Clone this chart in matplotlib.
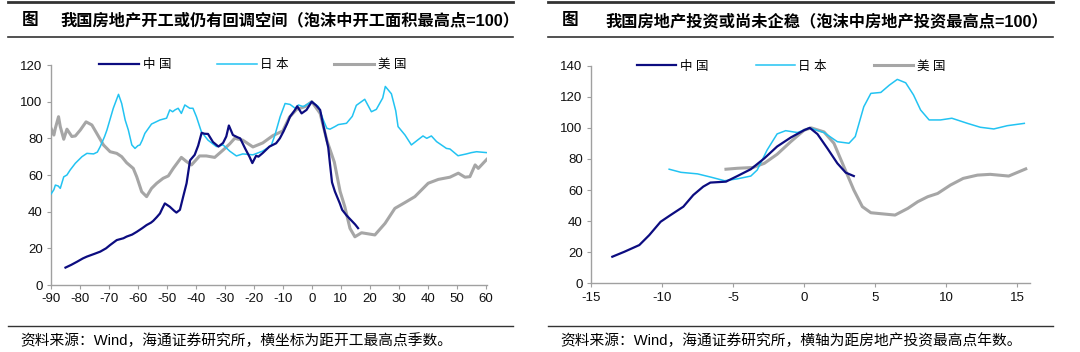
import matplotlib
matplotlib.use('Agg')
import matplotlib.pyplot as plt
from matplotlib.lines import Line2D

plt.rcParams['font.family'] = ['Liberation Sans', 'Noto Sans CJK SC']
plt.rcParams['axes.unicode_minus'] = False

# 左图：距开工最高点季数
cn_q = [-85, -83, -81, -79, -77.6, -75, -73, -71, -69.6, -67.3, -65, -63.9, -62, -60.4,
        -58.5, -57, -55.5, -54.7, -53.5, -52.4, -51.5, -50.7, -49, -47.5, -46.7, -45.5,
        -44.4, -43.2, -42, -40.4, -39.2, -38, -37, -35.8, -34.1, -32.2, -30.6, -29.5,
        -28.6, -27.2, -25.5, -24.7, -23, -21.5, -20.5, -19.2, -18.4, -16.9, -14.6, -12.3,
        -11, -9.8, -8.5, -7.5, -6, -5, -3.5, -1.8, 0, 1.5, 2.9, 4, 5, 5.7, 6.3, 7, 8,
        9.7, 10.5, 12, 13.5, 15, 16]
cn_v = [9.5, 11, 12.7, 14.5, 15.5, 17, 18.2, 20, 21.8, 24.5, 25.5, 26.4, 27.5, 29,
        31, 32.7, 34, 35, 37, 39, 42, 44.5, 42.7, 40.5, 39.5, 41,
        48, 55.5, 68, 71, 76, 83, 82.5, 82.4, 78, 75.5, 77.5, 81,
        87, 81.8, 80.5, 80, 74.5, 70, 66.5, 70.5, 70, 72, 75.5, 77.3,
        80, 83.6, 88, 91.8, 95, 97.5, 93.6, 95.5, 100, 98, 95.5, 87, 80, 75, 66, 56, 51,
        44.5, 41, 38, 35.5, 33, 31]

jp_q = [-90, -89, -88.5, -87.5, -86.8, -85.6, -84.5, -83.4, -81.6, -79.3, -77.6, -75.3,
        -74, -73, -71.5, -70.7, -68.5, -66.7, -65.6, -64.4, -63.3, -62.1, -61, -60,
        -59.3, -58.5, -57.6, -55.3, -52.4, -50.1, -49, -48, -47.2, -46.1, -45, -43.8,
        -42.1, -41, -39.8, -38.1, -35.8, -32.9, -30.6, -28.3, -26, -23.8, -20.3, -17,
        -14, -12.7, -10.9, -9.2, -7.5, -5.7, -4.6, -2.9, 0, 2.3, 4, 5.2, 6.3, 8, 9.2,
        12, 14, 15.4, 18.3, 20.6, 22.3, 24.5, 25.4, 27.5, 29, 29.8, 32.2, 34.4, 36.5,
        38.4, 39.7, 41.3, 43.1, 46.5, 47.7, 50.5, 53.4, 55.1, 56.9, 60.4]
jp_v = [49.6, 52, 54.5, 54, 52.7, 59, 60, 62.7, 66.4, 70, 71.8, 71.5,
        72.5, 75.5, 81, 84.5, 96.4, 104, 99, 90, 84.5, 76.4, 74.5, 76,
        76.4, 79, 82.7, 87.8, 90, 91, 95.5, 94.5, 95.5, 96.4, 93.6, 98.2,
        96.4, 96.4, 91.8, 83.6, 79, 75.5, 76.4, 73, 70.4, 71.5, 71, 73,
        76, 81.8, 91.8, 99, 98.5, 96.4, 98.2, 97.3, 100, 97.3, 90, 85.5, 85, 86.4, 87.5,
        88.2, 92, 98, 101.3, 94.5, 95.8, 102, 108.3, 104.3, 95, 86.4, 81.8, 76.4, 79,
        81.3, 80, 81.3, 78.2, 74.5, 74.2, 70.5, 71.5, 72.2, 72.7, 72.2]

us_q = [-90, -89, -88.5, -87.4, -86.8, -85.6, -84.5, -82.8, -81.6, -79.9, -77.9, -75.9,
        -74.2, -71.9, -69.6, -67.3, -65.6, -63.9, -61.6, -60.4, -58.7, -57, -55.3, -53.5,
        -51.3, -49.5, -47.8, -45, -43.2, -41.5, -38.7, -36.4, -33.5, -30.6, -28.3, -26.6,
        -23.8, -20.3, -16.9, -13.4, -10, -7.7, -5.2, -2.3, 0, 2.9, 5.2, 7.8, 9.8, 11.4,
        13.2, 14.9, 17.2, 21.8, 25.3, 28.7, 32.2, 35.6, 40.2, 43.7, 47.7, 50.6, 52.9,
        54.6, 56.4, 57.5, 60.4]
us_v = [85.5, 81.8, 85.5, 91.8, 86.4, 79.5, 85, 81, 81.3, 84.5, 89, 87.3,
        82.7, 76.4, 72.7, 71.8, 70, 66.7, 63.6, 59, 50.9, 48.2, 52.7, 55.5,
        58.2, 59.5, 63.6, 69.6, 67.3, 65.5, 70.4, 70.4, 69.6, 73.6, 77, 80,
        79, 75.3, 77.5, 81.5, 84, 91.5, 95.8, 97.3, 100, 93.6, 79, 67, 51, 42.8,
        30.9, 26.3, 28.5, 27.3, 33.6, 41.8, 45, 48.2, 55.5, 57.6, 58.8, 61, 58.8,
        59.1, 65.5, 63.6, 68.5]

# 右图：距房地产投资最高点年数
cn2_y = [-13.5, -12.65, -11.6, -10.9, -10.1, -9.4, -8.5, -7.8, -7.1, -6.6, -5.5, -4.7,
         -3.75, -2.8, -1.9, -0.94, 0, 0.4, 0.94, 1.64, 2.34, 2.93, 3.5]
cn2_v = [17.1, 20.3, 24.6, 31, 39.6, 43.9, 49.3, 56.8, 62.2, 64.8, 65.4, 69,
         73.4, 80.4, 88, 93.8, 98.5, 100, 96, 86.8, 77.2, 71.2, 69]

jp2_y = [-9.5, -8.67, -7.5, -6.56, -5.6, -4.7, -3.75, -3.3, -2.6, -1.9, -1.3, -0.47,
         0.4, 1.4, 2.34, 3.16, 3.6, 4.2, 4.7, 5.4, 6, 6.56, 7.15, 7.7, 8.2, 8.8, 9.6,
         10.4, 11.5, 12.4, 13.35, 14.3, 15.5]
jp2_v = [73.4, 71.4, 70.4, 68.3, 66, 67.2, 69, 72.9, 85.8, 96.1, 98.2, 97,
         100, 97, 91.1, 90.1, 94.4, 113.6, 122.2, 122.8, 127.5, 131.2, 129, 121.2, 111.5,
         105.1, 105.1, 106.2, 102.9, 100.4, 99.3, 101.4, 102.9]

us2_y = [-5.5, -4.7, -3.6, -2.8, -1.9, -0.94, 0, 0.5, 1.4, 2.1, 2.8, 3.5, 4.1, 4.7, 5.6,
         6.4, 7.3, 8, 8.7, 9.4, 10.3, 11.2, 12.2, 13.1, 14.4, 15.6]
us2_v = [73.4, 74, 74.5, 77.2, 83, 91.1, 98.5, 100, 97.4, 90.1, 75, 60, 49.3, 45.4, 44.6,
         43.9, 48.2, 52.5, 55.7, 57.8, 63.2, 67.5, 69.6, 70.1, 69, 73.6]

names = ['中 国', '日 本', '美 国']
titles = ['我国房地产开工或仍有回调空间（泡沫中开工面积最高点=100）',
          '我国房地产投资或尚未企稳（泡沫中房地产投资最高点=100）']
notes = ['资料来源：Wind，海通证券研究所，横坐标为距开工最高点季数。',
         '资料来源：Wind，海通证券研究所，横轴为距房地产投资最高点年数。']

c_cn, c_jp, c_us = '#0C0C80', '#22C3F2', '#A6A6A6'
axis_c = '#A0A0A0'

fig = plt.figure(figsize=(10.8, 3.52), dpi=100)


def style_axes(ax):
    for s in ['top', 'right']:
        ax.spines[s].set_visible(False)
    for s in ['left', 'bottom']:
        ax.spines[s].set_color(axis_c)
        ax.spines[s].set_linewidth(1.0)
    ax.tick_params(direction='out', length=3, width=0.8, color=axis_c,
                   labelsize=9.5, labelcolor='#111111', pad=3)


ax1 = fig.add_axes([51 / 1080, 1 - 285 / 352, 436 / 1080, 220 / 352])
ax1.plot(cn_q, cn_v, color=c_cn, lw=1.6, label=names[0], zorder=4)
ax1.plot(jp_q, jp_v, color=c_jp, lw=1.1, label=names[1], zorder=3)
ax1.plot(us_q, us_v, color=c_us, lw=2.2, label=names[2], zorder=2)
ax1.set_xlim(-90, 60.5)
ax1.set_ylim(0, 120)
ax1.set_xticks(range(-90, 61, 10))
ax1.set_yticks(range(0, 121, 20))
style_axes(ax1)
ax1.legend(loc='center left', bbox_to_anchor=(0.085, 1.0), ncol=3, frameon=False,
           handlelength=3.2, columnspacing=3.6, handletextpad=0.3, fontsize=9)

ax2 = fig.add_axes([591 / 1080, 1 - 283.3 / 352, 439 / 1080, 217.6 / 352])
ax2.plot(cn2_y, cn2_v, color=c_cn, lw=1.6, label=names[0], zorder=4)
ax2.plot(jp2_y, jp2_v, color=c_jp, lw=1.1, label=names[1], zorder=3)
ax2.plot(us2_y, us2_v, color=c_us, lw=2.2, label=names[2], zorder=2)
ax2.set_xlim(-15, 15.9)
ax2.set_ylim(0, 140)
ax2.set_xticks(range(-15, 16, 5))
ax2.set_yticks(range(0, 141, 20))
style_axes(ax2)
ax2.legend(loc='center left', bbox_to_anchor=(0.08, 0.995), ncol=3, frameon=False,
           handlelength=3.1, columnspacing=3.8, handletextpad=0.3, fontsize=9)

# 标题与来源
for i, x0 in enumerate([8, 548]):
    x1 = x0 + 505
    fig.add_artist(Line2D([x0 / 1080, x1 / 1080], [1 - 2 / 352] * 2, color='#333333', lw=2.0))
    fig.add_artist(Line2D([x0 / 1080, x1 / 1080], [1 - 37 / 352] * 2, color='#333333', lw=1.2))
    fig.add_artist(Line2D([x0 / 1080, x1 / 1080], [1 - 326 / 352] * 2, color='#333333', lw=1.0))
    fig.text((x0 + 14) / 1080, 1 - 21 / 352, '图', fontsize=12, fontweight='bold',
             va='center', ha='left')
    fig.text((x0 + 52 + 5 * i) / 1080, 1 - 21 / 352, titles[i], fontsize=11.7, fontweight='bold',
             va='center', ha='left')
    fig.text((x0 + 12) / 1080, 1 - 341 / 352, notes[i], fontsize=10.6, va='center', ha='left')

fig.savefig('out.png', dpi=100)
